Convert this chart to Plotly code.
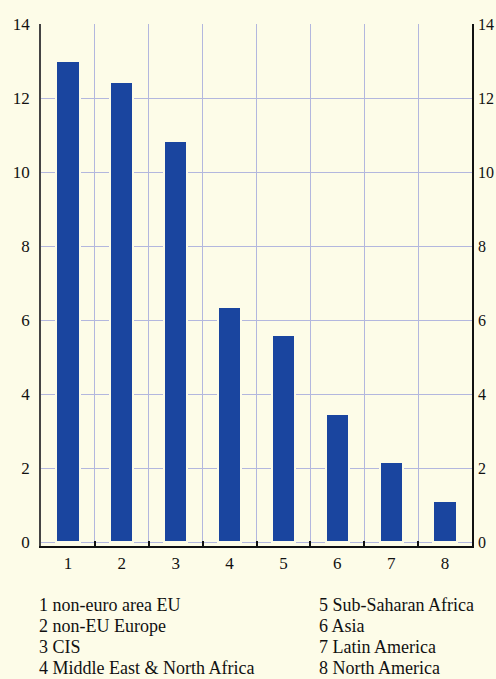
import plotly.graph_objects as go

# chart data
categories = [1, 2, 3, 4, 5, 6, 7, 8]
cat_labels = ["1", "2", "3", "4", "5", "6", "7", "8"]
values = [13.0, 12.42, 10.85, 6.35, 5.6, 3.47, 2.16, 1.11]
key_left = ["1 non-euro area EU", "2 non-EU Europe", "3 CIS", "4 Middle East & North Africa"]
key_right = ["5 Sub-Saharan Africa", "6 Asia", "7 Latin America", "8 North America"]
y_ticks = [0, 2, 4, 6, 8, 10, 12, 14]

bg = "#fdfce8"
grid = "#b3b7de"
bar_col = "#1a459f"
font = "Liberation Serif"

fig = go.Figure()
fig.add_trace(go.Bar(
    x=categories, y=values, width=0.43,
    marker=dict(color=bar_col, line=dict(color=bg, width=2)),
    xaxis="x", yaxis="y", showlegend=False, hoverinfo="skip",
))
# invisible helper traces so the overlay axes get drawn
fig.add_trace(go.Scatter(x=[1], y=[0], xaxis="x2", yaxis="y", mode="markers",
                         marker=dict(opacity=0), showlegend=False, hoverinfo="skip"))
fig.add_trace(go.Scatter(x=[1], y=[0], xaxis="x", yaxis="y2", mode="markers",
                         marker=dict(opacity=0), showlegend=False, hoverinfo="skip"))

xr = [0.5, 8.5]
yr = [-0.1, 14]
fig.update_layout(
    width=496, height=679,
    margin=dict(l=41, r=24, t=24, b=133, autoexpand=False),
    paper_bgcolor=bg, plot_bgcolor=bg,
    font=dict(family=font, size=17, color="#111"),
    bargap=0,
    xaxis=dict(range=xr, tickvals=categories, ticktext=cat_labels, showgrid=False,
               zeroline=False, ticks="", showline=False, automargin=False,
               ticklabelstandoff=5, tickfont=dict(size=17)),
    xaxis2=dict(range=xr, overlaying="x", anchor="y", side="bottom",
                tickvals=[i + 0.5 for i in range(0, 9)], showticklabels=False,
                showgrid=True, gridcolor=grid, gridwidth=1, zeroline=False,
                ticks="inside", ticklen=5, tickcolor="#111", tickwidth=1.5,
                showline=True, linecolor="#111", linewidth=1.5, automargin=False),
    yaxis=dict(range=yr, tickvals=y_ticks, showgrid=True, gridcolor=grid, gridwidth=1,
               zeroline=False, showline=True, linecolor="#444", linewidth=1.5,
               ticks="", ticklabelstandoff=6, automargin=False, tickfont=dict(size=17)),
    yaxis2=dict(range=yr, tickvals=y_ticks, overlaying="y", side="right", anchor="x",
                showgrid=False, zeroline=False, showline=True, linecolor="#111",
                linewidth=1.5, ticks="", ticklabelstandoff=1, automargin=False,
                tickfont=dict(size=16)),
)

# key under the chart
plot_h = 679 - 24 - 133
line_y = [605, 626, 647, 668]
for col_x, items in ((37, key_left), (317, key_right)):
    for txt, py in zip(items, line_y):
        fig.add_annotation(
            text=txt, xref="paper", yref="paper",
            x=(col_x - 41) / 431, y=(546 - py) / plot_h,
            xanchor="left", yanchor="middle", showarrow=False,
            font=dict(family=font, size=18, color="#111"),
        )

# page has a default body margin; drop it so the figure fills the window
fig.write_html("out.html", config={"displayModeBar": False},
               post_script="document.body.style.margin='0';document.body.style.overflow='hidden';")
